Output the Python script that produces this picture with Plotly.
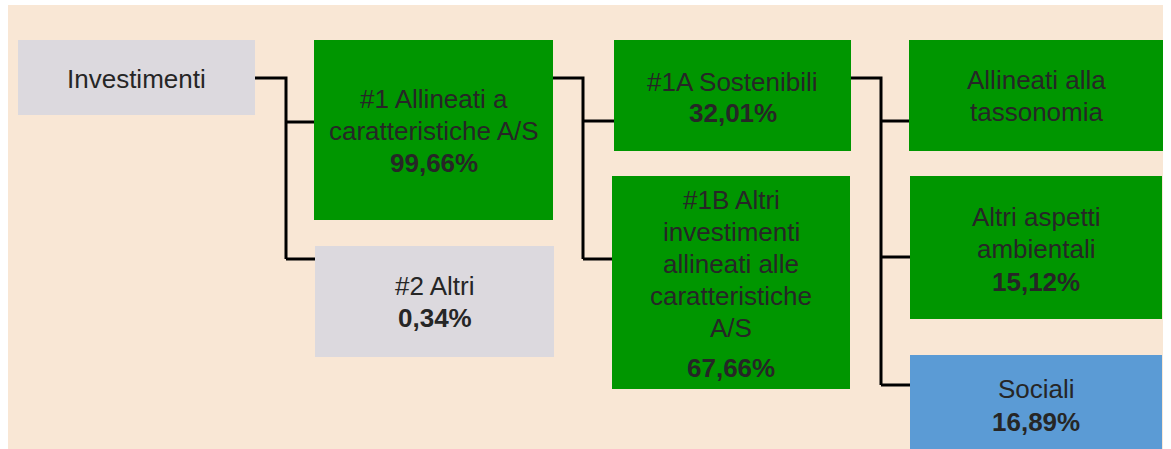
import plotly.graph_objects as go

# node data
node_ids = ["inv", "n1", "n2", "n1a", "n1b", "tax", "env", "soc"]
node_labels = [
    ["Investimenti"],
    ["#1 Allineati a", "caratteristiche A/S"],
    ["#2 Altri"],
    ["#1A Sostenibili"],
    ["#1B Altri", "investimenti", "allineati alle", "caratteristiche", "A/S"],
    ["Allineati alla", "tassonomia"],
    ["Altri aspetti", "ambientali"],
    ["Sociali"],
]
node_values = [None, "99,66%", "0,34%", "32,01%", "67,66%", None, "15,12%", "16,89%"]
node_kind = ["grey", "green", "grey", "green", "green", "green", "green", "blue"]
edges = [("inv", "n1"), ("inv", "n2"), ("n1", "n1a"), ("n1", "n1b"),
         ("n1a", "tax"), ("n1a", "env"), ("n1a", "soc")]

# layout (pixel coordinates, y downwards)
W, H = 1171, 449
BOX = {
    "inv": (18, 255, 40, 115),
    "n1": (314, 553, 40, 220),
    "n2": (315, 554, 246, 357),
    "n1a": (614, 851, 40, 151),
    "n1b": (612, 850, 176, 389),
    "tax": (909, 1163, 40, 151),
    "env": (910, 1162, 176, 319),
    "soc": (910, 1162, 355, 452),
}
PORT_OUT = {"inv": 78, "n1": 78, "n1a": 78}
PORT_IN = {"n1": 122, "n2": 259, "n1a": 121, "n1b": 259, "tax": 121, "env": 257, "soc": 385}
TRUNK_X = {"inv": 286, "n1": 583, "n1a": 881}
TEXT_Y = {"inv": 79, "n1": 99, "n2": 286, "n1a": 82, "n1b": 200,
          "tax": 80, "env": 217, "soc": 389}
VALUE_Y = {"n1": 163, "n2": 318, "n1a": 113, "n1b": 368, "env": 282, "soc": 422}
LINE_STEP = 32

COLORS = {"grey": "#dcd9de", "green": "#009600", "blue": "#5b9bd5"}
BG = "#f9e7d5"
TXT = "#262626"
FONT = "Liberation Sans, Arial, sans-serif"
FS = 26

fig = go.Figure()

shapes = [dict(type="rect", x0=8, x1=1163, y0=5, y1=H + 5, fillcolor=BG,
               line=dict(width=0), layer="below")]
annotations = []
for nid, lines, val, kind in zip(node_ids, node_labels, node_values, node_kind):
    x0, x1, y0, y1 = BOX[nid]
    shapes.append(dict(type="rect", x0=x0, x1=x1, y0=y0, y1=y1,
                       fillcolor=COLORS[kind], line=dict(width=0)))
    xc = (x0 + x1) / 2
    for i, line in enumerate(lines):
        annotations.append(dict(x=xc, y=TEXT_Y[nid] + i * LINE_STEP, text=line,
                                showarrow=False,
                                font=dict(size=FS, color=TXT, family=FONT),
                                xanchor="center", yanchor="middle"))
    if val:
        annotations.append(dict(x=xc, y=VALUE_Y[nid], text="<b>" + val + "</b>",
                                showarrow=False,
                                font=dict(size=FS, color=TXT, family=FONT),
                                xanchor="center", yanchor="middle"))

# connectors
for parent in TRUNK_X:
    kids = [c for p, c in edges if p == parent]
    tx = TRUNK_X[parent]
    ys = [PORT_IN[k] for k in kids]
    fig.add_trace(go.Scatter(x=[BOX[parent][1], tx, tx],
                             y=[PORT_OUT[parent], PORT_OUT[parent], max(ys)],
                             mode="lines", line=dict(color="#000000", width=3),
                             hoverinfo="skip"))
    for k in kids:
        fig.add_trace(go.Scatter(x=[tx, BOX[k][0]], y=[PORT_IN[k], PORT_IN[k]],
                                 mode="lines", line=dict(color="#000000", width=3),
                                 hoverinfo="skip"))

fig.update_layout(
    width=W, height=H,
    margin=dict(l=0, r=0, t=0, b=0),
    paper_bgcolor="white", plot_bgcolor="white",
    showlegend=False,
    shapes=shapes, annotations=annotations,
    xaxis=dict(range=[0, W], visible=False, fixedrange=True),
    yaxis=dict(range=[H, 0], visible=False, fixedrange=True),
)

fig.write_html("out.html", config={"displayModeBar": False},
               post_script="document.body.style.margin='0px';")
